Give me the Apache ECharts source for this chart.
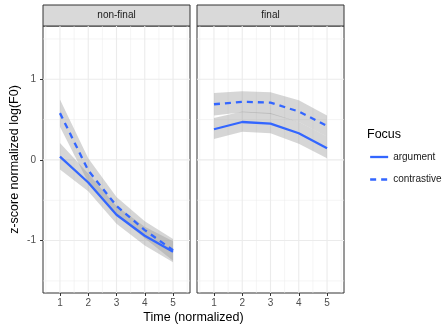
<!DOCTYPE html>
<html>
<head>
<meta charset="utf-8">
<script src="https://cdn.jsdelivr.net/npm/echarts@6/dist/echarts.min.js"></script>
<style>
  html, body { margin: 0; padding: 0; background: #ffffff; }
  #chart { width: 445px; height: 326px; }
</style>
</head>
<body>
<div id="chart"></div>
<script>
// Normalized time steps (x) and tick values
const time = [1, 2, 3, 4, 5];
const yTicks = [-1, 0, 1];
const xMinor = [0.5, 1.5, 2.5, 3.5, 4.5, 5.5];
const yMinor = [-1.5, -0.5, 0.5, 1.5];
const panels = ['non-final', 'final'];
const focusLevels = ['argument', 'contrastive'];

// Panel "non-final": fitted means and confidence bands
const nonFinalArgument = [0.04, -0.28, -0.68, -0.94, -1.14];
const nonFinalArgumentLo = [-0.12, -0.39, -0.79, -1.06, -1.27];
const nonFinalArgumentHi = [0.21, -0.17, -0.57, -0.83, -1.01];
const nonFinalContrastive = [0.58, -0.13, -0.57, -0.87, -1.12];
const nonFinalContrastiveLo = [0.41, -0.28, -0.68, -0.97, -1.25];
const nonFinalContrastiveHi = [0.75, 0.02, -0.46, -0.76, -0.98];

// Panel "final": fitted means and confidence bands
const finalArgument = [0.38, 0.47, 0.45, 0.33, 0.145];
const finalArgumentLo = [0.26, 0.35, 0.33, 0.20, 0.02];
const finalArgumentHi = [0.52, 0.60, 0.58, 0.47, 0.29];
const finalContrastive = [0.69, 0.72, 0.71, 0.60, 0.42];
const finalContrastiveLo = [0.55, 0.59, 0.57, 0.47, 0.29];
const finalContrastiveHi = [0.83, 0.85, 0.84, 0.74, 0.55];

const X_MIN = 0.4, X_MAX = 5.6, Y_MIN = -1.65, Y_MAX = 1.66;
const BLUE = '#3366FF';
const DASH = [6, 5];
const FONT = 'Liberation Sans, Arial, Helvetica, sans-serif';

const panelData = [
  { mean: [nonFinalArgument, nonFinalContrastive],
    lo: [nonFinalArgumentLo, nonFinalContrastiveLo],
    hi: [nonFinalArgumentHi, nonFinalContrastiveHi] },
  { mean: [finalArgument, finalContrastive],
    lo: [finalArgumentLo, finalContrastiveLo],
    hi: [finalArgumentHi, finalContrastiveHi] }
];

const panelLeft = [43, 197];
const panelTop = 26, panelWidth = 147, panelHeight = 267, stripHeight = 21;

// Background grid lines drawn through the axis scales
function gridRenderer(params, api) {
  if (params.dataIndex !== 0) return;
  const children = [];
  const add = (a, b, w) => children.push({
    type: 'line',
    shape: { x1: a[0], y1: a[1], x2: b[0], y2: b[1] },
    style: { stroke: '#EBEBEB', lineWidth: w }
  });
  xMinor.forEach(v => add(api.coord([v, Y_MIN]), api.coord([v, Y_MAX]), 0.55));
  yMinor.forEach(v => add(api.coord([X_MIN, v]), api.coord([X_MAX, v]), 0.55));
  time.forEach(v => add(api.coord([v, Y_MIN]), api.coord([v, Y_MAX]), 1.1));
  yTicks.forEach(v => add(api.coord([X_MIN, v]), api.coord([X_MAX, v]), 1.1));
  return { type: 'group', children };
}

// Confidence ribbon as one polygon: upper edge forward, lower edge back
function ribbonRenderer(lo, hi) {
  return function (params, api) {
    if (params.dataIndex !== 0) return;
    const pts = [];
    time.forEach((t, i) => pts.push(api.coord([t, hi[i]])));
    for (let i = time.length - 1; i >= 0; i--) pts.push(api.coord([time[i], lo[i]]));
    return {
      type: 'polygon',
      shape: { points: pts },
      style: { fill: 'rgba(153,153,153,0.4)', stroke: null }
    };
  };
}

const grids = [], xAxes = [], yAxes = [], series = [];

panels.forEach((name, p) => {
  grids.push({
    left: panelLeft[p], top: panelTop, width: panelWidth, height: panelHeight,
    show: true, backgroundColor: '#ffffff', borderColor: '#333333', borderWidth: 1,
    containLabel: false
  });
  xAxes.push({
    type: 'value', gridIndex: p, min: X_MIN, max: X_MAX, position: 'bottom',
    axisLine: { show: false, onZero: false },
    axisTick: { show: true, length: 3, customValues: time, lineStyle: { color: '#333333', width: 1 } },
    axisLabel: { customValues: time, color: '#4D4D4D', fontSize: 10, fontFamily: FONT, margin: 5 },
    splitLine: { show: false }
  });
  yAxes.push({
    type: 'value', gridIndex: p, min: Y_MIN, max: Y_MAX, position: 'left',
    axisLine: { show: false, onZero: false },
    axisTick: { show: p === 0, length: 3, customValues: yTicks, lineStyle: { color: '#333333', width: 1 } },
    axisLabel: { show: p === 0, customValues: yTicks, color: '#4D4D4D', fontSize: 10, fontFamily: FONT, margin: 7 },
    splitLine: { show: false },
    name: p === 0 ? 'z-score normalized log(F0)' : '',
    nameLocation: 'middle', nameGap: 22,
    nameTextStyle: { color: '#000000', fontSize: 12.5, fontFamily: FONT }
  });

  series.push({
    type: 'custom', xAxisIndex: p, yAxisIndex: p, z: 1, silent: true,
    renderItem: gridRenderer, data: [[time[0], 0]]
  });

  const d = panelData[p];
  focusLevels.forEach((f, k) => {
    series.push({
      type: 'custom', xAxisIndex: p, yAxisIndex: p, z: 2, silent: true, clip: true,
      renderItem: ribbonRenderer(d.lo[k], d.hi[k]),
      data: time.map((t, i) => [t, d.lo[k][i], d.hi[k][i]]),
      encode: { x: 0, y: [1, 2] }
    });
  });
  focusLevels.forEach((f, k) => {
    series.push({
      name: f, type: 'line', xAxisIndex: p, yAxisIndex: p, z: 3,
      symbol: 'none', silent: true, animation: false,
      color: BLUE,
      lineStyle: { color: BLUE, width: 2.3, type: k === 0 ? 'solid' : DASH },
      data: time.map((t, i) => [t, d.mean[k][i]])
    });
  });
});

// Facet strips
const graphics = [];
panels.forEach((name, p) => {
  graphics.push({
    type: 'rect',
    shape: { x: panelLeft[p], y: panelTop - stripHeight, width: panelWidth, height: stripHeight },
    style: { fill: '#D9D9D9', stroke: '#333333', lineWidth: 1 }
  });
  graphics.push({
    type: 'text',
    x: panelLeft[p] + panelWidth / 2, y: panelTop - stripHeight / 2,
    style: { text: name, fill: '#1A1A1A', fontSize: 10, fontFamily: FONT, align: 'center', verticalAlign: 'middle' }
  });
});
graphics.push({
  type: 'text', x: (panelLeft[0] + panelLeft[1] + panelWidth) / 2, y: 318,
  style: { text: 'Time (normalized)', fill: '#000000', fontSize: 12.5, fontFamily: FONT, align: 'center', verticalAlign: 'middle' }
});
graphics.push({
  type: 'text', x: 367, y: 135,
  style: { text: 'Focus', fill: '#000000', fontSize: 12.5, fontFamily: FONT, align: 'left', verticalAlign: 'middle' }
});

const chart = echarts.init(document.getElementById('chart'), null, { renderer: 'canvas' });
chart.setOption({
  animation: false,
  backgroundColor: '#ffffff',
  grid: grids,
  xAxis: xAxes,
  yAxis: yAxes,
  series: series,
  legend: {
    data: focusLevels,
    orient: 'vertical', left: 369, top: 152, padding: 0,
    itemWidth: 18, itemHeight: 10, itemGap: 12.5,
    selectedMode: false,
    itemStyle: { opacity: 0 },
    lineStyle: { width: 2.3 },
    textStyle: { color: '#1A1A1A', fontSize: 10, fontFamily: FONT }
  },
  graphic: graphics
});
</script>
</body>
</html>
